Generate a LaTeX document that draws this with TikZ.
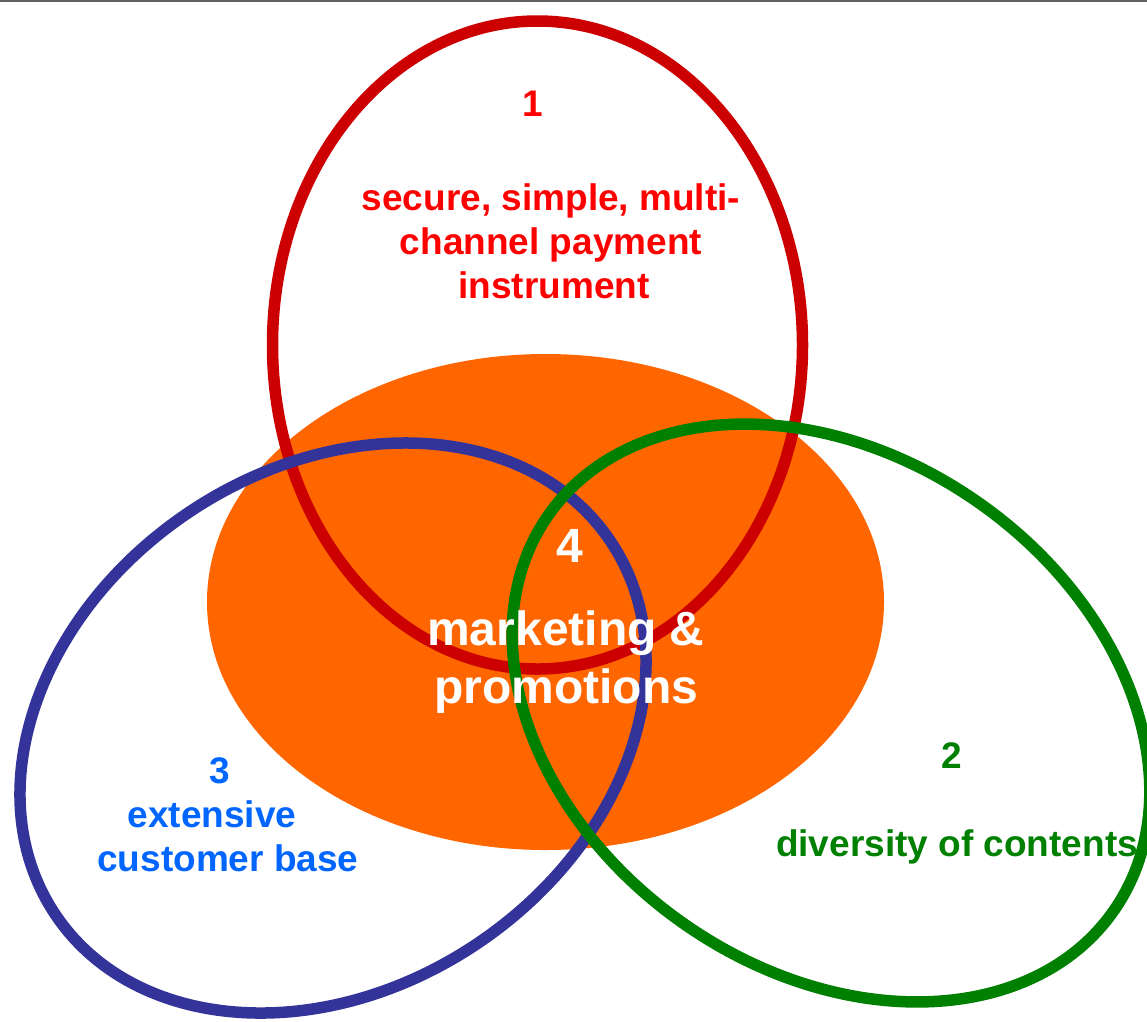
\documentclass[tikz,border=0pt]{standalone}
\usepackage{fontspec}
\setmainfont{Liberation Sans}
\definecolor{topgray}{HTML}{606060}
\definecolor{orangefill}{HTML}{FF6600}
\definecolor{redring}{HTML}{CC0000}
\definecolor{bluering}{HTML}{333399}
\definecolor{greenring}{HTML}{008000}
\definecolor{redtext}{HTML}{FF0000}
\definecolor{bluetext}{HTML}{0066FF}
\begin{document}
\begin{tikzpicture}[x=1pt,y=-1pt,
  ring/.style={line width=11.5pt},
  lbl/.style={anchor=base, inner sep=0pt, font=\bfseries\fontsize{37}{44}\selectfont},
  biglbl/.style={anchor=base, inner sep=0pt, text=white, font=\bfseries\fontsize{48}{58}\selectfont}]
\useasboundingbox (0,0) rectangle (1147,1021);
\fill[white] (0,0) rectangle (1147,1021);
\draw[line width=2pt, topgray] (0,1) -- (1147,1);
% shapes
\fill[orangefill] (545.5,602) ellipse [x radius=338.5, y radius=248];
\draw[ring, redring] (537.5,345) ellipse [x radius=265, y radius=324];
\draw[ring, bluering, rotate around={34:(333,728)}] (333,728) ellipse [x radius=334.5, y radius=259.4];
\draw[ring, greenring, rotate around={-35:(831,713)}] (831,713) ellipse [x radius=345, y radius=257];
% red labels
\node[lbl, text=redtext] (n1) at (533,116) {1};
\node[lbl, text=redtext] (r1) at (551,210) {secure, simple, multi-};
\node[lbl, text=redtext] (r2) at (551,254) {channel payment};
\node[lbl, text=redtext] (r3) at (554,298) {instrument};
% blue labels
\node[lbl, text=bluetext] (n3) at (220,783) {3};
\node[lbl, text=bluetext] (b1) at (212,827) {extensive};
\node[lbl, text=bluetext] (b2) at (228,871) {customer base};
% green labels
\node[lbl, text=greenring] (n2) at (952,768) {2};
\node[lbl, text=greenring] (g1) at (957,856) {diversity of contents};
% white labels
\node[biglbl] (n4) at (570,562) {4};
\node[biglbl] (w1) at (566,645) {marketing \&};
\node[biglbl] (w2) at (566,703) {promotions};
\end{tikzpicture}
\end{document}
